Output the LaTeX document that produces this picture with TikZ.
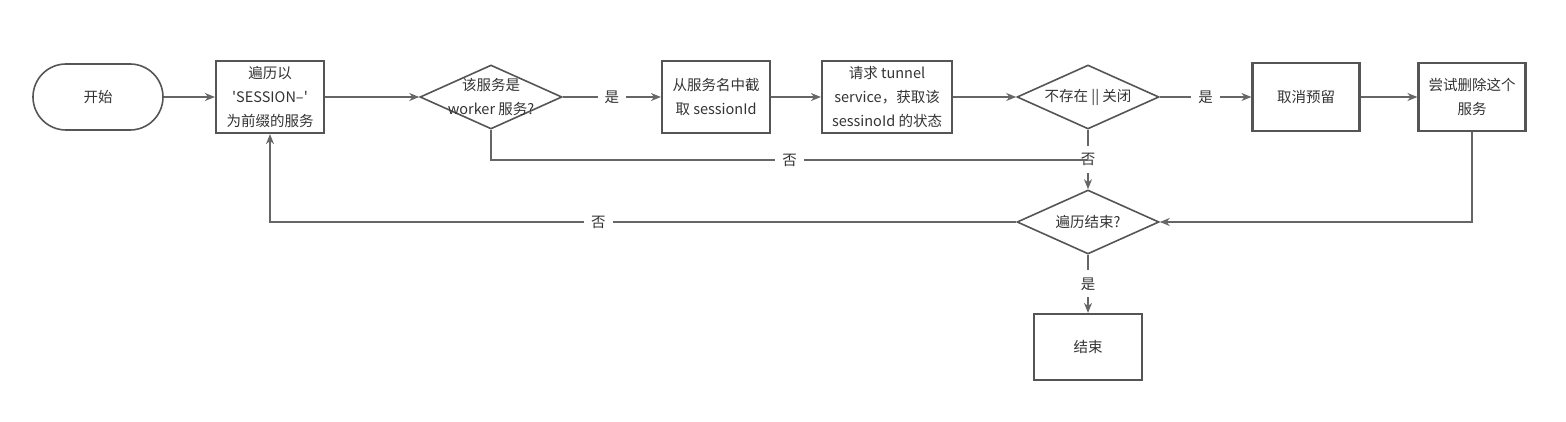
\documentclass[tikz,border=0pt]{standalone}
\usepackage{fontspec}
\setmainfont{Noto Sans CJK SC}
\usetikzlibrary{shapes.geometric,arrows.meta,positioning}
\definecolor{linegray}{HTML}{666666}
\definecolor{boxgray}{HTML}{555555}
\definecolor{textgray}{HTML}{333333}

\begin{document}
\begin{tikzpicture}[->, >={Stealth[length=10pt,width=8pt]}, x=1pt, y=1pt, line width=1.6pt, color=linegray, text=textgray, font=\fontsize{14.5}{24}\selectfont]

    \tikzstyle{terminal}=[draw=boxgray, rounded corners=33pt, minimum width=130pt, minimum height=66pt]
    \tikzstyle{process}=[draw=boxgray, line width=2.2pt, minimum width=108pt, minimum height=72pt, align=center, inner sep=2pt]
    \tikzstyle{decision}=[draw=boxgray, diamond, aspect=2.2, minimum width=142pt, minimum height=64pt, inner sep=0pt]
    \tikzstyle{answer}=[fill=white, inner sep=7pt, text=textgray]

    \useasboundingbox (0,0) rectangle (1566,421);

    \node[terminal] (start) at (98,324) {开始};
    \node[process] (scan) [right of=start, node distance=172pt] {遍历以\\\textquotesingle SESSION–\textquotesingle\\为前缀的服务};
    \node[decision, label={[align=center]center:该服务是\\worker 服务?}] (isworker) [right of=scan, node distance=221pt] {};
    \node[process] (cutid) [right of=isworker, node distance=225pt] {从服务名中截\\取 sessionId};
    \node[process, minimum width=130pt] (askstate) [right of=cutid, node distance=171pt] {请求 tunnel\\service，获取该\\sessinoId 的状态};
    \node[decision, label={center:不存在 || 关闭}] (isclosed) [right of=askstate, node distance=201pt] {};
    \node[process, minimum width=107pt, minimum height=68pt] (unreserve) [right of=isclosed, node distance=218pt] {取消预留};
    \node[process, minimum width=107pt, minimum height=68pt] (remove) [right of=unreserve, node distance=166pt] {尝试删除这个\\服务};
    \node[decision, label={center:遍历结束?}] (isdone) [below of=isclosed, node distance=125pt] {};
    \node[process, minimum height=66pt] (finish) [below of=isdone, node distance=125pt] {结束};
    \coordinate[below of=isclosed, node distance=63pt] (join);

    \path (start) edge (scan)
          (scan) edge (isworker)
          (isworker) edge node[answer] {是} (cutid)
          (cutid) edge (askstate)
          (askstate) edge (isclosed)
          (isclosed) edge node[answer] {是} (unreserve)
          (unreserve) edge (remove)
          (isclosed) edge node[answer] {否} (isdone)
          (isdone) edge node[answer] {是} (finish);

    \draw[-] (isworker.south) |- node[answer, pos=0.75] {否} (join);
    \draw (remove.south) |- (isdone.east);
    \draw (isdone.west) -| node[answer, pos=0.28] {否} (scan.south);
\end{tikzpicture}
\end{document}
